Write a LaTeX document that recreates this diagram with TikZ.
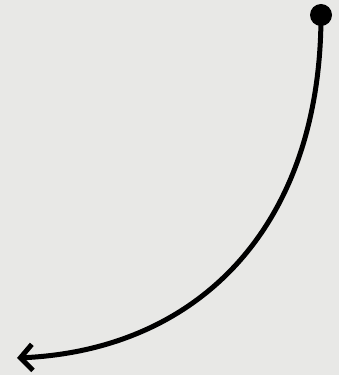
\documentclass[tikz,border=0pt]{standalone}
\usetikzlibrary{arrows.meta}
\definecolor{bg}{HTML}{E8E8E6}
\begin{document}
\begin{tikzpicture}[x=1pt,y=1pt,
  curve/.style={line width=5pt,-{Straight Barb[length=12pt,width=26pt,line width=5pt]}}]
\fill[bg] (0,0) rectangle (339,375);
\useasboundingbox (0,0) rectangle (339,375);
\coordinate (s) at (321,360);
\coordinate (e) at (17,17);
\fill (s) circle (11);
\draw[curve] (s) .. controls (321,150) and (200,25) .. (e);
\end{tikzpicture}
\end{document}
